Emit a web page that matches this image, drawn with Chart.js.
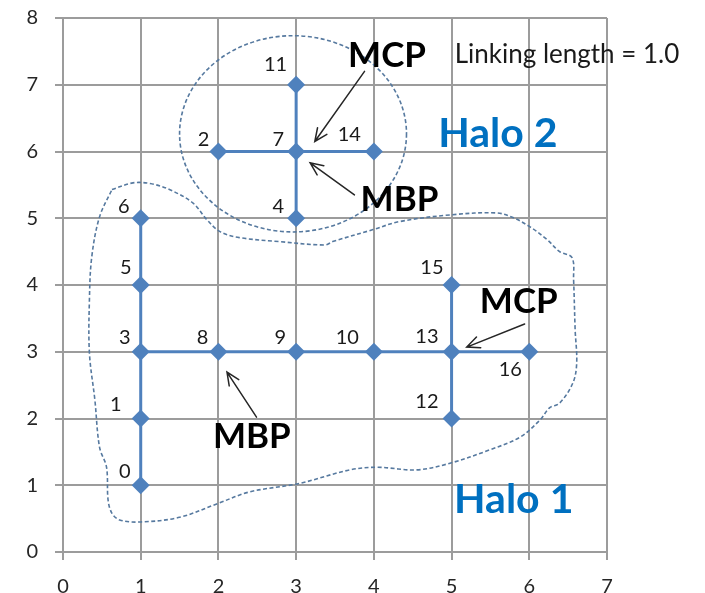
<!DOCTYPE html>
<html>
<head>
<meta charset="utf-8">
<script src="https://cdn.jsdelivr.net/npm/chart.js@4.4.1/dist/chart.umd.min.js"></script>
<style>
  html, body { margin: 0; padding: 0; background: #ffffff; }
  #wrap { width: 705px; height: 593px; }
</style>
</head>
<body>
<div id="wrap"><canvas id="c" width="705" height="593"></canvas></div>
<script>
// Particles: id and position
const particleIds = [0, 1, 2, 3, 4, 5, 6, 7, 8, 9, 10, 11, 12, 13, 14, 15, 16];
const particleX   = [1, 1, 2, 1, 3, 1, 1, 3, 2, 3, 4, 3, 5, 5, 4, 5, 6];
const particleY   = [1, 2, 6, 3, 5, 4, 5, 6, 3, 3, 3, 7, 2, 3, 6, 4, 3];

// Friends-of-friends links, as chains of particle ids
const linkChains = [
  [0, 1, 3, 5, 6],
  [3, 8, 9, 10, 13, 16],
  [12, 13, 15],
  [4, 7, 11],
  [2, 7, 14]
];

// Axis ranges / tick labels
const xTicks = [0, 1, 2, 3, 4, 5, 6, 7];
const yTicks = [0, 1, 2, 3, 4, 5, 6, 7, 8];

// Hand-drawn boundary of halo 1 (closed loop)
const halo1X = [0.63, 0.90, 1.12, 1.37, 1.67, 1.85, 2.02, 2.27, 2.79, 3.37, 3.47, 3.99, 4.33, 4.98, 5.58,
                5.79, 6.01, 6.23, 6.39, 6.55, 6.57, 6.59, 6.61, 6.56, 6.39, 6.26, 6.14, 5.88, 5.49, 4.98,
                4.55, 4.04, 3.69, 3.05, 2.40, 2.00, 1.50, 1.00, 0.73, 0.63, 0.58, 0.56, 0.47, 0.41, 0.34,
                0.34, 0.37, 0.47, 0.63];
const halo1Y = [5.43, 5.53, 5.52, 5.43, 5.23, 4.98, 4.80, 4.71, 4.65, 4.60, 4.65, 4.83, 4.95, 5.05, 5.08,
                5.01, 4.87, 4.68, 4.50, 4.41, 4.08, 3.33, 2.83, 2.53, 2.23, 2.16, 1.98, 1.72, 1.53, 1.33,
                1.23, 1.27, 1.23, 1.03, 0.90, 0.73, 0.52, 0.45, 0.48, 0.58, 0.78, 1.27, 1.57, 2.28, 2.98,
                3.78, 4.42, 5.02, 5.43];

// Boundary of halo 2: ellipse centre and radii in axis units
const halo2Center = [2.96, 6.265];
const halo2Radius = [1.46, 1.47];

// Callout texts (centre in axis units)
const noteTexts = ['MCP', 'MBP', 'MBP', 'MCP', 'Halo 2', 'Halo 1', 'Linking length = 1.0'];
const noteX     = [4.17, 4.33, 2.43, 5.865, 5.595, 5.80, 5.04];
const noteY     = [7.45, 5.30, 1.74, 3.775, 6.295, 0.805, 7.46];

// Callout arrows: tail -> tip, in axis units
const arrowFromX = [3.88, 3.75, 2.49, 5.94];
const arrowFromY = [7.20, 5.35, 2.02, 3.415];
const arrowToX   = [3.24, 3.18, 2.11, 5.195];
const arrowToY   = [6.15, 5.83, 2.695, 3.07];

// ---- styling ----
const BLUE = '#4F81BD';
const GRID = '#9c9c9c';
const HALO_LINE = '#56799f';
const FONT = 'Lato, "Open Sans", sans-serif';

const noteStyle = [
  { font: 'bold 35px ' + FONT, color: '#000000', align: 'center', cap: 35 },
  { font: 'bold 35px ' + FONT, color: '#000000', align: 'center', cap: 35 },
  { font: 'bold 35px ' + FONT, color: '#000000', align: 'center', cap: 35 },
  { font: 'bold 35px ' + FONT, color: '#000000', align: 'center', cap: 35 },
  { font: 'bold 41px ' + FONT, color: '#0070C0', align: 'center', cap: 41 },
  { font: 'bold 41px ' + FONT, color: '#0070C0', align: 'center', cap: 41 },
  { font: '26px ' + FONT, color: '#1a1a1a', align: 'left', cap: 24 }
];

// id label placement relative to the marker (px): right edge / vertical centre
const labelDefault = [-10, -14];
const labelNudge = {
  1: [-19, -14], 5: [-9, -17], 10: [-15, -14], 11: [-9, -20], 12: [-13, -17],
  13: [-13, -15], 14: [-13, -17], 15: [-8, -17], 2: [-9, -12], 4: [-12, -12],
  6: [-11, -12], 7: [-12, -12]
};

const idx = id => particleIds.indexOf(id);

const datasets = [];
datasets.push({
  label: 'particles',
  data: particleIds.map((id, i) => ({ x: particleX[i], y: particleY[i] })),
  pointStyle: 'rectRot',
  pointRadius: 9,
  pointHoverRadius: 9,
  backgroundColor: BLUE,
  borderColor: BLUE,
  borderWidth: 0,
  showLine: false,
  order: 0
});
linkChains.forEach((chain, k) => {
  datasets.push({
    label: 'link ' + k,
    data: chain.map(id => ({ x: particleX[idx(id)], y: particleY[idx(id)] })),
    showLine: true,
    borderColor: BLUE,
    borderWidth: 3,
    pointRadius: 0,
    tension: 0,
    order: 1
  });
});
datasets.push({
  label: 'halo 1',
  data: halo1X.map((x, i) => ({ x: x, y: halo1Y[i] })),
  showLine: true,
  borderColor: HALO_LINE,
  borderWidth: 1.6,
  borderDash: [4, 2.5],
  pointRadius: 0,
  tension: 0.35,
  order: 2
});

const overlay = {
  id: 'overlay',
  beforeDatasetsDraw(chart) {
    const { ctx, scales: { x, y } } = chart;
    // halo 2 boundary
    const cx = x.getPixelForValue(halo2Center[0]);
    const cy = y.getPixelForValue(halo2Center[1]);
    const rx = Math.abs(x.getPixelForValue(halo2Center[0] + halo2Radius[0]) - cx);
    const ry = Math.abs(y.getPixelForValue(halo2Center[1] + halo2Radius[1]) - cy);
    ctx.save();
    ctx.strokeStyle = HALO_LINE;
    ctx.lineWidth = 1.6;
    ctx.setLineDash([4, 2.5]);
    ctx.beginPath();
    ctx.ellipse(cx, cy, rx, ry, 0, 0, Math.PI * 2);
    ctx.stroke();
    ctx.restore();
  },
  afterDatasetsDraw(chart) {
    const { ctx, scales: { x, y } } = chart;
    ctx.save();
    // particle id labels
    ctx.font = '20px ' + FONT;
    ctx.fillStyle = '#1a1a1a';
    ctx.textBaseline = 'middle';
    particleIds.forEach((id, i) => {
      const px = x.getPixelForValue(particleX[i]);
      const py = y.getPixelForValue(particleY[i]);
      if (id === 16) {
        ctx.textAlign = 'center';
        ctx.fillText(String(id), px - 19, py + 18);
        return;
      }
      const n = labelNudge[id] || labelDefault;
      ctx.textAlign = 'right';
      ctx.fillText(String(id), px + n[0], py + n[1]);
    });
    // arrows
    ctx.strokeStyle = '#262626';
    ctx.lineWidth = 1.5;
    ctx.lineCap = 'round';
    arrowFromX.forEach((fx, i) => {
      const x0 = x.getPixelForValue(fx), y0 = y.getPixelForValue(arrowFromY[i]);
      const x1 = x.getPixelForValue(arrowToX[i]), y1 = y.getPixelForValue(arrowToY[i]);
      const a = Math.atan2(y1 - y0, x1 - x0);
      const h = 14, s = 0.42;
      ctx.beginPath();
      ctx.moveTo(x0, y0);
      ctx.lineTo(x1, y1);
      ctx.moveTo(x1 - h * Math.cos(a - s), y1 - h * Math.sin(a - s));
      ctx.lineTo(x1, y1);
      ctx.lineTo(x1 - h * Math.cos(a + s), y1 - h * Math.sin(a + s));
      ctx.stroke();
    });
    // callout texts
    ctx.textBaseline = 'alphabetic';
    noteTexts.forEach((t, i) => {
      const st = noteStyle[i];
      ctx.font = st.font;
      ctx.fillStyle = st.color;
      ctx.textAlign = st.align;
      const px = x.getPixelForValue(noteX[i]);
      const py = y.getPixelForValue(noteY[i]) + st.cap * 0.36;
      ctx.fillText(t, px, py);
    });
    ctx.restore();
  }
};

new Chart(document.getElementById('c'), {
  type: 'scatter',
  data: { datasets: datasets },
  options: {
    responsive: false,
    animation: false,
    events: [],
    layout: { padding: { top: 18, right: 98, left: 0, bottom: 0 } },
    plugins: { legend: { display: false }, tooltip: { enabled: false } },
    scales: {
      x: {
        type: 'linear',
        min: xTicks[0],
        max: xTicks[xTicks.length - 1],
        afterBuildTicks: s => { s.ticks = xTicks.map(v => ({ value: v })); },
        afterFit: s => { s.height = 41; s.paddingLeft = 0; s.paddingRight = 0; },
        ticks: { color: '#262626', font: { family: FONT, size: 20 }, padding: 15, maxRotation: 0 },
        grid: { color: GRID, lineWidth: 2, tickLength: 8, drawTicks: true },
        border: { color: GRID, width: 2 }
      },
      y: {
        type: 'linear',
        min: yTicks[0],
        max: yTicks[yTicks.length - 1],
        afterBuildTicks: s => { s.ticks = yTicks.map(v => ({ value: v })); },
        afterFit: s => { s.width = 63; s.paddingTop = 0; s.paddingBottom = 0; },
        ticks: { color: '#262626', font: { family: FONT, size: 20 }, padding: 17 },
        grid: { color: GRID, lineWidth: 2, tickLength: 8, drawTicks: true },
        border: { color: GRID, width: 2 }
      }
    }
  },
  plugins: [overlay]
});
</script>
</body>
</html>
